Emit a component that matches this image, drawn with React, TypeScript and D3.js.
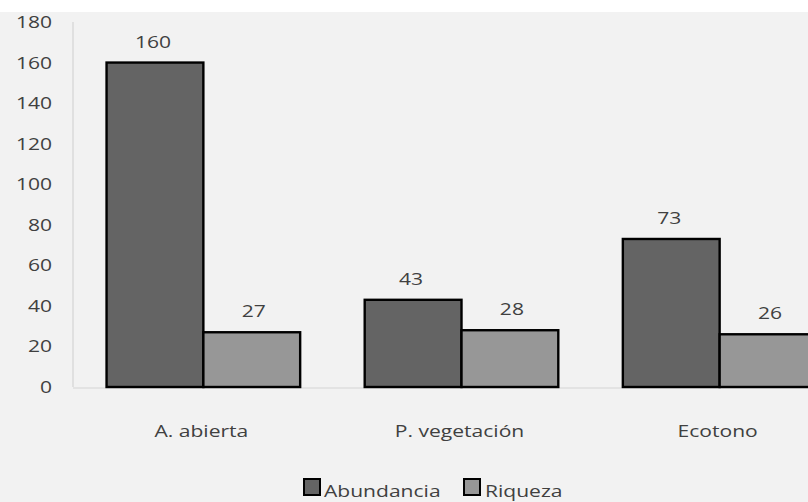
import React from 'react';
import * as d3 from 'd3';

const categories = ['A. abierta', 'P. vegetación', 'Ecotono'];
const seriesNames = ['Abundancia', 'Riqueza'];
const abundancia = [160, 43, 73];
const riqueza = [27, 28, 26];
const yTicks = [0, 20, 40, 60, 80, 100, 120, 140, 160, 180];

const W = 808;
const H = 502;
const colors = ['#646464', '#979797'];
const textColor = '#404040';
const font = '"Open Sans", sans-serif';
const SX = 1.24; // horizontal stretch seen in the reference text

const App: React.FC = () => {
  const x0 = d3.scaleBand<string>()
    .domain(categories)
    .range([73, 850])
    .paddingInner(0.25)
    .paddingOuter(0.13);

  const x1 = d3.scaleBand<string>()
    .domain(seriesNames)
    .range([0, x0.bandwidth()])
    .padding(0);

  const y = d3.scaleLinear().domain([0, 180]).range([387, 22]);

  const values = [abundancia, riqueza];

  const stretchedText = (
    key: string,
    tx: number,
    ty: number,
    label: string,
    anchor: 'start' | 'middle' | 'end',
    size: number,
  ) => (
    <text
      key={key}
      transform={`translate(${tx},${ty}) scale(${SX},1)`}
      textAnchor={anchor}
      fontFamily={font}
      fontSize={size}
      fill={textColor}
    >
      {label}
    </text>
  );

  return (
    <svg
      width={W}
      height={H}
      style={{ display: 'block', position: 'fixed', left: 0, top: 0 }}
    >
      <rect x={0} y={0} width={W} height={H} fill="#f2f2f2" />
      <rect x={0} y={0} width={W} height={12} fill="#ffffff" />

      {/* axis lines */}
      <line x1={73} x2={73} y1={y(180)} y2={y(0)} stroke="#d4d4d4" strokeWidth={1.2} />
      <line x1={73} x2={W} y1={y(0) + 1} y2={y(0) + 1} stroke="#d4d4d4" strokeWidth={1.2} />

      {/* y tick labels */}
      {yTicks.map(t => stretchedText(`t${t}`, 52, y(t) + 6, String(t), 'end', 17))}

      {/* bars */}
      {categories.map((c, i) => (
        <g key={c} transform={`translate(${x0(c)},0)`}>
          {seriesNames.map((s, j) => {
            const v = values[j][i];
            const bx = x1(s) ?? 0;
            return (
              <g key={s}>
                <rect
                  x={bx}
                  y={y(v)}
                  width={x1.bandwidth()}
                  height={y(0) - y(v)}
                  fill={colors[j]}
                  stroke="#000000"
                  strokeWidth={2.4}
                />
                {stretchedText(
                  `v${s}`,
                  bx + x1.bandwidth() / 2 + (j === 0 ? -2 : 2),
                  y(v) - 15,
                  String(v),
                  'middle',
                  17,
                )}
              </g>
            );
          })}
          {stretchedText(`c${c}`, x0.bandwidth() / 2 - 2, 437, c, 'middle', 17)}
        </g>
      ))}

      {/* legend */}
      {[
        { x: 304, tx: 324 },
        { x: 464, tx: 485 },
      ].map((p, j) => (
        <g key={seriesNames[j]}>
          <rect x={p.x} y={479} width={16} height={16} fill={colors[j]} stroke="#000" strokeWidth={2} />
          {stretchedText(`l${j}`, p.tx, 497, seriesNames[j], 'start', 17)}
        </g>
      ))}
    </svg>
  );
};

export default App;
